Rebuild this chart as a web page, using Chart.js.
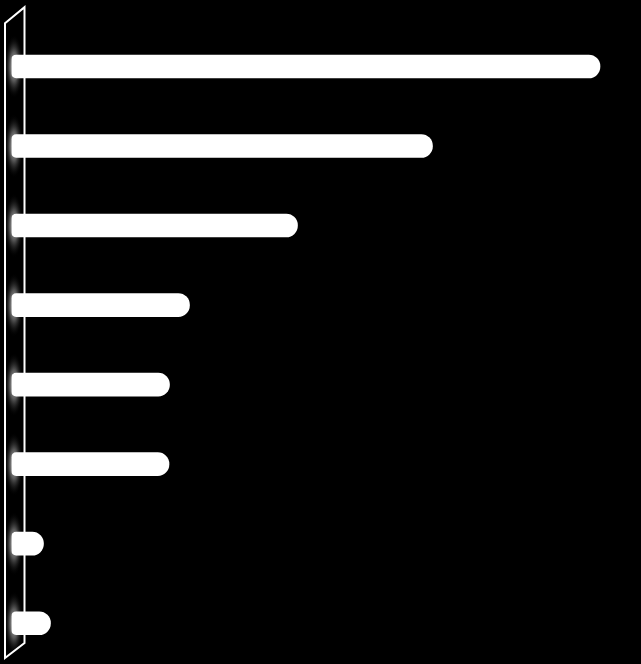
<!DOCTYPE html>
<html>
<head>
<meta charset="utf-8">
<script src="https://cdn.jsdelivr.net/npm/chart.js@4/dist/chart.umd.min.js"></script>
<style>
  html, body { margin: 0; padding: 0; background: #000; }
  #wrap { width: 641px; height: 664px; position: relative; }
</style>
</head>
<body>
<div id="wrap"><canvas id="barChart"></canvas></div>
<script>
// categories (no labels are shown in the picture)
const categories = ["A", "B", "C", "D", "E", "F", "G", "H"];
// bar lengths
const values = [588.5, 421, 286, 178, 158, 157.5, 32, 39];
const xMax = 629.5;

// the slanted back wall behind the bar bases, with a soft glow at each bar
const wallPlugin = {
  id: "wall",
  beforeDatasetsDraw(chart) {
    const ctx = chart.ctx;
    const ca = chart.chartArea;
    const x0 = ca.left - 6.5;
    const x1 = ca.left + 13;
    const top0 = ca.top - 3.5, top1 = ca.top - 19.5;
    const bot0 = ca.bottom - 5, bot1 = ca.bottom - 20;

    // glow blobs
    const meta = chart.getDatasetMeta(0);
    meta.data.forEach(function (bar) {
      const cx = ca.left + 2.5;
      const cy = bar.y;
      ctx.save();
      ctx.translate(cx, cy);
      ctx.scale(0.3, 1);
      const g = ctx.createRadialGradient(0, 0, 0, 0, 0, 32);
      g.addColorStop(0, "rgba(210,210,210,1)");
      g.addColorStop(0.45, "rgba(150,150,150,0.6)");
      g.addColorStop(1, "rgba(0,0,0,0)");
      ctx.fillStyle = g;
      ctx.beginPath();
      ctx.arc(0, 0, 32, 0, Math.PI * 2);
      ctx.fill();
      ctx.restore();
    });

    ctx.save();
    ctx.strokeStyle = "#ffffff";
    ctx.lineWidth = 2;
    ctx.lineJoin = "miter";
    ctx.beginPath();
    ctx.moveTo(x0, top0);
    ctx.lineTo(x1, top1);
    ctx.lineTo(x1, bot1);
    ctx.lineTo(x0, bot0);
    ctx.closePath();
    ctx.stroke();
    ctx.restore();
  }
};

const chart = new Chart(document.getElementById("barChart"), {
  type: "bar",
  data: {
    labels: categories,
    datasets: [{
      data: values,
      backgroundColor: "#ffffff",
      borderWidth: 0,
      borderSkipped: false,
      barThickness: 23,
      borderRadius: { topLeft: 5, bottomLeft: 5, topRight: 11.5, bottomRight: 11.5 }
    }]
  },
  options: {
    indexAxis: "y",
    responsive: true,
    maintainAspectRatio: false,
    animation: false,
    layout: { padding: { left: 11.5, right: 0, top: 26.7, bottom: 1 } },
    scales: {
      x: { display: false, min: 0, max: xMax },
      y: { display: false }
    },
    plugins: {
      legend: { display: false },
      tooltip: { enabled: false }
    }
  },
  plugins: [wallPlugin]
});
</script>
</body>
</html>
